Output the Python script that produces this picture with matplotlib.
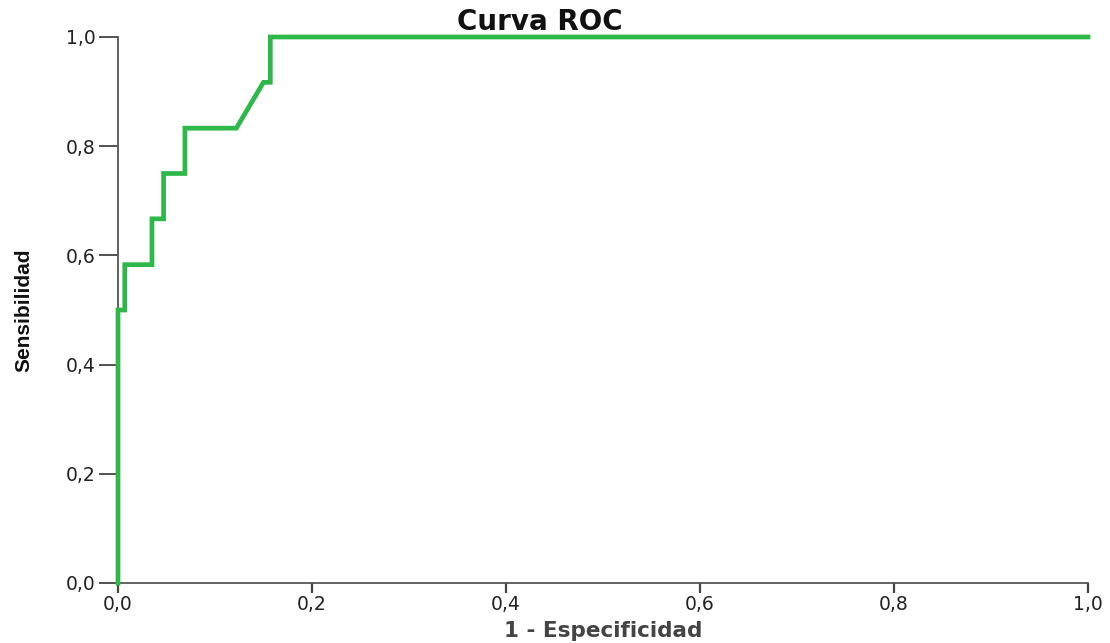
#!/usr/bin/env python3

import numpy as np
import matplotlib
matplotlib.use('Agg')
import matplotlib.pyplot as plt

# ROC curve points (1 - especificidad, sensibilidad)
fpr = [0.0, 0.0, 0.007, 0.007, 0.035, 0.035, 0.047, 0.047,
       0.069, 0.069, 0.122, 0.150, 0.157, 0.157, 1.0]
tpr = [0.0, 0.5, 0.5, 0.583, 0.583, 0.667, 0.667, 0.75,
       0.75, 0.833, 0.833, 0.917, 0.917, 1.0, 1.0]

ticks = [0.0, 0.2, 0.4, 0.6, 0.8, 1.0]
tick_labels = ['0,0', '0,2', '0,4', '0,6', '0,8', '1,0']

W, H = 1110, 643
fig = plt.figure(figsize=(W/100, H/100), dpi=100)
ax = fig.add_axes([118/W, 1-583/H, 970/W, 546/H])

ax.plot(fpr, tpr, color='#2fb84a', lw=3.4, clip_on=False, zorder=3,
        solid_joinstyle='miter')

ax.set_xlim(0, 1)
ax.set_ylim(0, 1)
for s in ['top', 'right']:
    ax.spines[s].set_visible(False)
for s in ['left', 'bottom']:
    ax.spines[s].set_color('#555555')
    ax.spines[s].set_linewidth(1.3)

ax.set_xticks(ticks)
ax.set_xticklabels(tick_labels)
ax.set_yticks(ticks)
ax.set_yticklabels(tick_labels)
ax.tick_params(axis='x', direction='out', length=7, width=1.6, color='#444444',
               pad=2, labelsize=13.5, labelcolor='#222222')
ax.tick_params(axis='y', direction='out', length=14, width=1.3, color='#444444',
               pad=2, labelsize=13.5, labelcolor='#222222')

fig.text(540/W, 1-30/H, 'Curva ROC', ha='center', va='baseline',
         fontsize=20, fontweight='bold', color='#111111')
fig.text(603/W, 1-621/H, '1 - Especificidad', ha='center', va='top',
         fontsize=15.5, fontweight='bold', color='#444444')
fig.text(24/W, 1-310/H, 'Sensibilidad', ha='center', va='center',
         rotation=90, fontsize=15, fontweight='bold', color='#111111',
         family=['Liberation Sans', 'DejaVu Sans'])

fig.savefig('out.png', dpi=100)
